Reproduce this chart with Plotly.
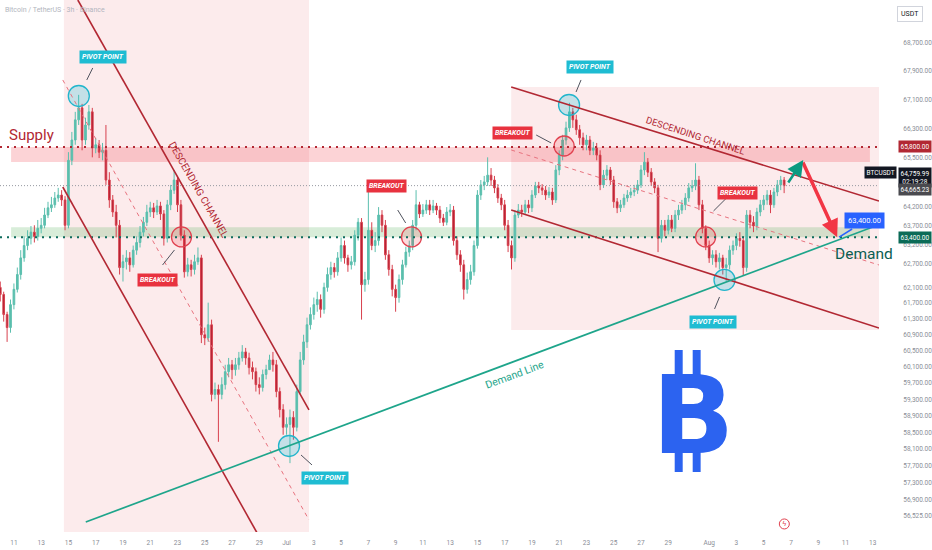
import math
import pandas as pd
import plotly.graph_objects as go

# BTCUSDT, candles every 6h starting 2024-06-10 00:00
start = "2024-06-10 00:00"
first_open = 62100
closes = [
    61920, 61410, 61080, 61660, 62050, 62430, 62860, 63180, 63370, 63530, 63420, 63630,
    63710, 63980, 64170, 64250, 64430, 64510, 64380, 63710, 65440, 65990, 66540, 66870,
    65990, 66400, 66760, 65770, 65860, 65660, 65710, 64910, 64380, 64060, 63710, 62610,
    62760, 62860, 62680, 63060, 63260, 63530, 63790, 64060, 64170, 64060, 64220, 64010,
    63370, 64250, 64640, 64910, 64250, 63450, 62500, 62680, 62560, 62760, 62860, 60900,
    60820, 61150, 59420, 59540, 59420, 59660, 59980, 60150, 60030, 60150, 60320, 60470,
    60320, 60080, 59980, 59660, 59590, 59910, 60030, 60270, 60150, 59490, 59050, 58620,
    58690, 58860, 58620, 59490, 60270, 60720, 61150, 61410, 61660, 61790, 61540, 62100,
    62430, 62610, 62500, 62860, 63180, 62860, 62680, 62760, 63450, 63790, 62170, 62300,
    63580, 63180, 63310, 63980, 63710, 62940, 62560, 62050, 61840, 62300, 62680, 63010,
    63180, 63710, 64250, 64010, 64110, 64250, 64110, 64220, 64110, 63900, 63790, 64060,
    64110, 63310, 62940, 62680, 62050, 62300, 62500, 63180, 64510, 64780, 64860, 65040,
    64910, 64700, 64430, 64250, 63710, 63180, 62860, 63980, 64110, 64060, 64250, 64170,
    64510, 64750, 64700, 64640, 64510, 64590, 64380, 65180, 65580, 65990, 66320, 66760,
    66540, 66270, 66050, 65860, 65990, 65710, 65770, 65580, 64780, 65040, 65180, 64910,
    64330, 64170, 64250, 64430, 64510, 64590, 64640, 64780, 65180, 65390, 65120, 64860,
    64700, 63370, 63710, 63580, 63850, 63630, 63980, 64110, 64250, 64430, 64700, 64750,
    64910, 64250, 63630, 63180, 62860, 62940, 62760, 62860, 62610, 62680, 63060, 63180,
    63370, 63310, 62610, 63980, 63790, 63690, 64060, 64250, 64380, 64510, 64250, 64590,
    64780, 64910, 64760,
]
highs = [
    62250, 61990, 61480, 61790, 62200, 62610, 63060, 63420, 63580, 63690, 63710, 63850,
    63900, 64170, 64330, 64460, 64590, 64700, 64640, 64480, 65660, 66210, 66760, 67230,
    66980, 66600, 66950, 66870, 66050, 65990, 65910, 66400, 65120, 64510, 64250, 63850,
    62940, 63060, 63010, 63180, 63420, 63690, 63930, 64250, 64330, 64300, 64380, 64330,
    64110, 64380, 64780, 65180, 65020, 64380, 63580, 62860, 62810, 62940, 63130, 62940,
    61080, 61710, 61280, 59710, 59660, 59840, 60150, 60320, 60270, 60320, 60470, 60640,
    60570, 60450, 60230, 60080, 59840, 60030, 60150, 60400, 60470, 60270, 59590, 59180,
    58860, 59050, 59010, 59660, 60470, 60900, 61330, 61590, 61840, 61990, 61920, 62220,
    62610, 62760, 62730, 63010, 63390, 63310, 62940, 62910, 63580, 63900, 63900, 62500,
    64640, 63790, 63530, 64190, 64110, 63850, 63060, 62680, 62170, 62430, 62810, 63150,
    63310, 63850, 64640, 64330, 64270, 64380, 64380, 64380, 64300, 64220, 64010, 64190,
    64270, 64220, 63420, 63060, 62810, 62480, 62680, 63310, 64640, 64910, 65020, 65520,
    65230, 65020, 64800, 64540, 64380, 63850, 63310, 64110, 64270, 64250, 64380, 64380,
    64640, 64860, 64860, 64800, 64750, 64720, 64700, 65310, 65710, 66130, 66490, 67010,
    66870, 66680, 66400, 66190, 66130, 66100, 65940, 65910, 65710, 65180, 65310, 65260,
    65020, 64430, 64380, 64540, 64640, 64700, 64780, 64910, 65310, 65660, 65500, 65230,
    64960, 64780, 63850, 63850, 63980, 63980, 64110, 64250, 64380, 64560, 64830, 64910,
    65360, 65020, 64380, 63710, 63310, 63060, 63060, 62990, 62940, 62860, 63180, 63310,
    63500, 63530, 63420, 64110, 64110, 63950, 64170, 64380, 64510, 64640, 64640, 64700,
    64910, 65020, 64990,
]
lows = [
    61740, 61230, 60720, 60950, 61540, 61970, 62300, 62760, 63060, 63210, 63260, 63310,
    63500, 63630, 63900, 64060, 64170, 64330, 64220, 63580, 63630, 65310, 65860, 66400,
    65710, 65860, 66270, 65520, 65630, 65500, 65440, 64780, 64170, 63930, 63390, 62430,
    62250, 62560, 62500, 62610, 62940, 63130, 63420, 63690, 63930, 63900, 63980, 63850,
    63180, 63260, 64110, 64540, 64060, 63310, 62350, 62380, 62380, 62430, 62680, 60690,
    60640, 60720, 59250, 59300, 58270, 59300, 59540, 59840, 59790, 59880, 60030, 60230,
    60150, 59910, 59790, 59490, 59420, 59490, 59790, 60080, 59980, 59350, 58860, 58440,
    58440, 57760, 58320, 58520, 59420, 60150, 60570, 61030, 61280, 61480, 61330, 61430,
    61990, 62300, 62350, 62400, 62760, 62710, 62500, 62560, 62660, 63310, 61280, 61990,
    62170, 63060, 63010, 63180, 63530, 62810, 62400, 61870, 61480, 61710, 62170, 62610,
    62890, 63060, 63580, 63900, 63930, 64010, 63980, 64030, 63980, 63770, 63690, 63710,
    63950, 63180, 62810, 62500, 61790, 61940, 62170, 62400, 63100, 64380, 64640, 64750,
    64750, 64560, 64300, 64110, 63580, 63010, 62560, 62760, 63900, 63930, 63980, 64030,
    64060, 64430, 64560, 64510, 64380, 64430, 64250, 64300, 65040, 65440, 65860, 66210,
    66320, 66130, 65860, 65710, 65710, 65580, 65580, 65440, 64640, 64700, 64910, 64780,
    64170, 64030, 64060, 64170, 64330, 64430, 64480, 64540, 64700, 65040, 64990, 64750,
    64560, 63010, 63260, 63420, 63470, 63530, 63530, 63850, 64010, 64110, 64330, 64590,
    64640, 64110, 63500, 63060, 62730, 62680, 62610, 62560, 62430, 62250, 62560, 62940,
    63060, 63150, 62400, 62500, 63630, 63530, 63580, 63950, 64110, 64250, 64030, 64170,
    64480, 64640, 64560,
]

tick_dates = ["2024-06-11", "2024-06-13", "2024-06-15", "2024-06-17", "2024-06-19",
              "2024-06-21", "2024-06-23", "2024-06-25", "2024-06-27", "2024-06-29",
              "2024-07-01", "2024-07-03", "2024-07-05", "2024-07-07", "2024-07-09",
              "2024-07-11", "2024-07-13", "2024-07-15", "2024-07-17", "2024-07-19",
              "2024-07-21", "2024-07-23", "2024-07-25", "2024-07-27", "2024-07-29",
              "2024-08-01", "2024-08-03", "2024-08-05", "2024-08-07", "2024-08-09",
              "2024-08-11", "2024-08-13"]
tick_labels = ["11", "13", "15", "17", "19", "21", "23", "25", "27", "29",
               "Jul", "3", "5", "7", "9", "11", "13", "15", "17", "19",
               "21", "23", "25", "27", "29", "Aug", "3", "5", "7", "9", "11", "13"]
price_ticks = [68700, 67900, 67100, 66300, 65500, 64200, 63700, 63200, 62700, 62100,
               61700, 61300, 60900, 60500, 60100, 59700, 59300, 58900, 58500, 58100,
               57700, 57300, 56900, 56525]

supply_level = 65800
demand_level = 63400
last_price = 64759.99
prev_close = 64665.23

# pivots (cyan) and breakouts (red) marked with circles
pivot_times = ["2024-06-15 18:15", "2024-07-01 04:20", "2024-07-21 17:20", "2024-08-02 03:00"]
pivot_prices = [67198, 58170, 66949, 62290]
breakout_times = ["2024-06-23 07:00", "2024-07-10 04:00", "2024-07-21 08:40", "2024-07-31 17:45"]
breakout_prices = [63404, 63404, 65827, 63404]

RED = "#b22833"
TEAL = "#1ea58b"
LEFT_EDGE = "2024-06-09 23:30"
RIGHT_EDGE = "2024-08-13 11:00"

times = pd.date_range(start, periods=len(closes), freq="6h")
opens = [first_open] + closes[:-1]


def ly(p):
    return math.log10(p)


fig = go.Figure()

fig.add_trace(go.Candlestick(
    x=times, open=opens, high=highs, low=lows, close=closes,
    increasing=dict(line=dict(color="#5bbfae", width=1), fillcolor="#5bbfae"),
    decreasing=dict(line=dict(color="#d8404e", width=1), fillcolor="#a8192c"),
    whiskerwidth=0, hoverinfo="skip",
))

fig.add_trace(go.Scatter(
    x=pivot_times, y=pivot_prices, mode="markers",
    marker=dict(size=21, color="rgba(0,188,212,0.22)", line=dict(color="#22b5cc", width=1.3)),
    hoverinfo="skip",
))
fig.add_trace(go.Scatter(
    x=breakout_times, y=breakout_prices, mode="markers",
    marker=dict(size=20, color="rgba(242,54,69,0.18)", line=dict(color="#e0414f", width=1.3)),
    hoverinfo="skip",
))
# little event icon at the bottom
fig.add_trace(go.Scatter(
    x=["2024-08-06 12:20"], y=[56330], mode="markers+text", text=["ϟ"],
    textposition="middle center", textfont=dict(size=7, color="#e0414f"),
    marker=dict(size=10, color="white", line=dict(color="#e0414f", width=1)),
    hoverinfo="skip",
))

shapes = []

# shaded areas
shapes.append(dict(type="rect", xref="x", yref="paper", x0="2024-06-14 16:00", x1="2024-07-02 15:30",
                   y0=0, y1=1, fillcolor="rgba(226,70,86,0.11)", line_width=0, layer="below"))
shapes.append(dict(type="rect", xref="x", yref="y", x0="2024-07-17 11:30", x1=RIGHT_EDGE,
                   y0=61019, y1=67448, fillcolor="rgba(226,70,86,0.11)", line_width=0, layer="below"))
shapes.append(dict(type="rect", xref="x", yref="y", x0="2024-06-10 19:00", x1="2024-08-12 19:00",
                   y0=65394, y1=supply_level, fillcolor="rgba(242,54,69,0.22)", line_width=0, layer="below"))
shapes.append(dict(type="rect", xref="x", yref="y", x0="2024-06-10 19:00", x1="2024-08-12 19:00",
                   y0=demand_level, y1=63660, fillcolor="rgba(76,175,80,0.22)", line_width=0, layer="below"))

# horizontal levels
shapes.append(dict(type="line", x0=LEFT_EDGE, x1=RIGHT_EDGE, y0=supply_level, y1=supply_level,
                   line=dict(color=RED, width=2, dash="2px,5px")))
shapes.append(dict(type="line", x0=LEFT_EDGE, x1=RIGHT_EDGE, y0=demand_level, y1=demand_level,
                   line=dict(color="#0d6b5c", width=2, dash="2px,5px")))
shapes.append(dict(type="line", x0=LEFT_EDGE, x1=RIGHT_EDGE, y0=last_price, y1=last_price,
                   line=dict(color="#9598a1", width=1, dash="1px,2px")))

# channels
channel_lines = [
    ("2024-06-15 16:30", 69910, "2024-07-02 15:30", 59040, "solid"),
    ("2024-06-14 14:00", 64724, "2024-06-28 20:10", 56121, "solid"),
    ("2024-06-14 14:00", 67643, "2024-07-02 15:30", 56423, "dash"),
    ("2024-07-17 11:30", 67448, RIGHT_EDGE, 64351, "solid"),
    ("2024-07-17 11:30", 64113, RIGHT_EDGE, 61069, "solid"),
    ("2024-07-17 11:30", 65719, RIGHT_EDGE, 62676, "dash"),
]
for x0, y0, x1, y1, style in channel_lines:
    if style == "dash":
        ln = dict(color="#e8737f", width=1, dash="4px,4px")
    else:
        ln = dict(color=RED, width=1.6)
    shapes.append(dict(type="line", x0=x0, y0=y0, x1=x1, y1=y1, line=ln))

# demand trend line
shapes.append(dict(type="line", x0="2024-06-16 06:30", y0=56375, x1=RIGHT_EDGE, y1=63726,
                   line=dict(color=TEAL, width=1.7)))

# label connectors
connectors = [
    ("2024-06-16 18:45", 67978, "2024-06-16 08:15", 67643),
    ("2024-07-22 14:25", 67643, "2024-07-22 05:40", 67309),
    ("2024-07-02 01:25", 57955, "2024-07-02 20:45", 57717),
    ("2024-08-01 18:15", 61855, "2024-08-01 09:30", 61550),
    ("2024-06-21 21:40", 62676, "2024-06-22 18:40", 63065),
    ("2024-07-09 03:40", 64113, "2024-07-09 17:40", 63771),
    ("2024-07-19 07:30", 66126, "2024-07-20 09:50", 65909),
    ("2024-08-02 10:05", 64484, "2024-08-01 07:40", 64087),
]
for x0, y0, x1, y1 in connectors:
    shapes.append(dict(type="line", x0=x0, y0=y0, x1=x1, y1=y1, line=dict(color="#50535e", width=1)))

# bitcoin logo bars
BLUE = "#2c63f0"
for xa, xb in [("2024-07-29 11:20", "2024-07-30 01:25"), ("2024-07-30 19:00", "2024-07-31 09:00")]:
    shapes.append(dict(type="rect", x0=xa, x1=xb, y0=59800, y1=60518, fillcolor=BLUE, line_width=0))
    shapes.append(dict(type="rect", x0=xa, x1=xb, y0=57549, y1=58150, fillcolor=BLUE, line_width=0))

annotations = []


def tag(x, price, text, bg):
    annotations.append(dict(x=x, y=ly(price), xref="x", yref="y", text="<b><i>" + text + "</i></b>",
                            showarrow=False, bgcolor=bg, borderpad=2,
                            font=dict(color="white", size=7, family="Roboto")))


tag("2024-06-17 12:15", 68290, "PIVOT POINT", "#1fbcd2")
tag("2024-07-23 06:15", 68006, "PIVOT POINT", "#1fbcd2")
tag("2024-07-03 19:30", 57408, "PIVOT POINT", "#1fbcd2")
tag("2024-08-01 06:00", 61220, "PIVOT POINT", "#1fbcd2")
tag("2024-06-21 12:50", 62290, "BREAKOUT", "#e8323f")
tag("2024-07-08 08:20", 64750, "BREAKOUT", "#e8323f")
tag("2024-07-17 13:20", 66181, "BREAKOUT", "#e8323f")
tag("2024-08-03 01:50", 64564, "BREAKOUT", "#e8323f")

annotations += [
    dict(x="2024-06-24 12:45", y=ly(64650), text="DESCENDING CHANNEL", textangle=60, showarrow=False,
         font=dict(color=RED, size=10, family="Roboto")),
    dict(x="2024-07-31 00:10", y=ly(66126), text="DESCENDING CHANNEL", textangle=18, showarrow=False,
         font=dict(color=RED, size=9.5, family="Roboto")),
    dict(x="2024-07-17 18:40", y=ly(59898), text="Demand Line", textangle=-20.5, showarrow=False,
         font=dict(color=TEAL, size=10.5, family="Roboto")),
    dict(x="2024-06-10 12:30", y=ly(66126), text="Supply", xanchor="left", showarrow=False,
         font=dict(color=RED, size=15, family="Roboto")),
    dict(x="2024-08-12 08:40", y=ly(62961), text="Demand", showarrow=False,
         font=dict(color="#0b5e52", size=15.5, family="Roboto")),
    # bitcoin logo
    dict(x="2024-07-30 19:00", y=ly(58895), text="<b>B</b>", showarrow=False,
         font=dict(color=BLUE, size=108, family="DejaVu Sans")),
    # projection arrows
    dict(x="2024-08-10 09:20", y=ly(63400), ax="2024-08-07 19:55", ay=ly(65422),
         xref="x", yref="y", axref="x", ayref="y", text="", showarrow=True,
         arrowhead=2, arrowsize=1, arrowwidth=3.5, arrowcolor="#f23645"),
    dict(x="2024-08-07 21:40", y=ly(65450), ax="2024-08-06 17:30", ay=ly(64804),
         xref="x", yref="y", axref="x", ayref="y", text="", showarrow=True,
         arrowhead=2, arrowsize=1.3, arrowwidth=2.5, arrowcolor="#0b9a80"),
    # target callout
    dict(x="2024-08-10 12:45", y=ly(demand_level), ax="2024-08-12 10:20", ay=ly(63823),
         xref="x", yref="y", axref="x", ayref="y", text="63,400.00", showarrow=True,
         arrowhead=0, arrowwidth=1.5, arrowcolor="#2962ff", bgcolor="#2962ff", borderpad=3,
         font=dict(color="white", size=7.5, family="Roboto")),
    # header
    dict(x=0, y=1, xref="paper", yref="paper", xanchor="left", yanchor="top", xshift=3, yshift=-4,
         text="Bitcoin / TetherUS · 3h · Binance", showarrow=False,
         font=dict(color="#b2b5be", size=7, family="Roboto")),
    dict(x=1, y=1, xref="paper", yref="paper", xanchor="center", yanchor="top", xshift=31, yshift=-6,
         text="USDT", showarrow=False, bordercolor="#d1d4dc", borderwidth=1, borderpad=3,
         font=dict(color="#131722", size=7, family="Roboto")),
]


def axis_tag(price, text, bg, pos_price=None, anchor="left", shift=19):
    annotations.append(dict(x=1, y=ly(pos_price or price), xref="paper", yref="y", xanchor=anchor,
                            xshift=shift, text=text, showarrow=False, bgcolor=bg, borderpad=1.5,
                            font=dict(color="white", size=6.5, family="Roboto")))


axis_tag(supply_level, "65,800.00", RED)
axis_tag(last_price, "64,759.99<br>02:19:28", "#131722", pos_price=64991)
axis_tag(prev_close, "64,665.23", "#4a4a4f", pos_price=64644)
axis_tag(last_price, "BTCUSDT", "#131722", pos_price=65099, anchor="right", shift=18)
axis_tag(demand_level, "63,400.00", "#0b6b57")

fig.update_layout(
    width=932, height=550,
    margin=dict(l=0, r=50, t=0, b=18),
    paper_bgcolor="white", plot_bgcolor="white",
    showlegend=False,
    shapes=shapes, annotations=annotations,
    xaxis=dict(type="date", range=[LEFT_EDGE, RIGHT_EDGE], rangeslider=dict(visible=False),
               tickvals=tick_dates, ticktext=tick_labels, showgrid=False, zeroline=False,
               ticks="outside", ticklen=4, tickcolor="rgba(0,0,0,0)",
               tickfont=dict(size=6.5, color="#8a8d96", family="Roboto")),
    yaxis=dict(type="log", side="right", range=[4.74930, 4.84454],
               tickvals=price_ticks, ticktext=[f"{v:,.2f}" for v in price_ticks],
               showgrid=False, zeroline=False, ticks="outside", ticklen=22, tickcolor="rgba(0,0,0,0)",
               tickfont=dict(size=6.5, color="#8a8d96", family="Roboto")),
)

# the page body has a default margin that would crop the fixed-size figure
fig.write_html("out.html", config={"displayModeBar": False},
               post_script="document.body.style.margin='0px';")
